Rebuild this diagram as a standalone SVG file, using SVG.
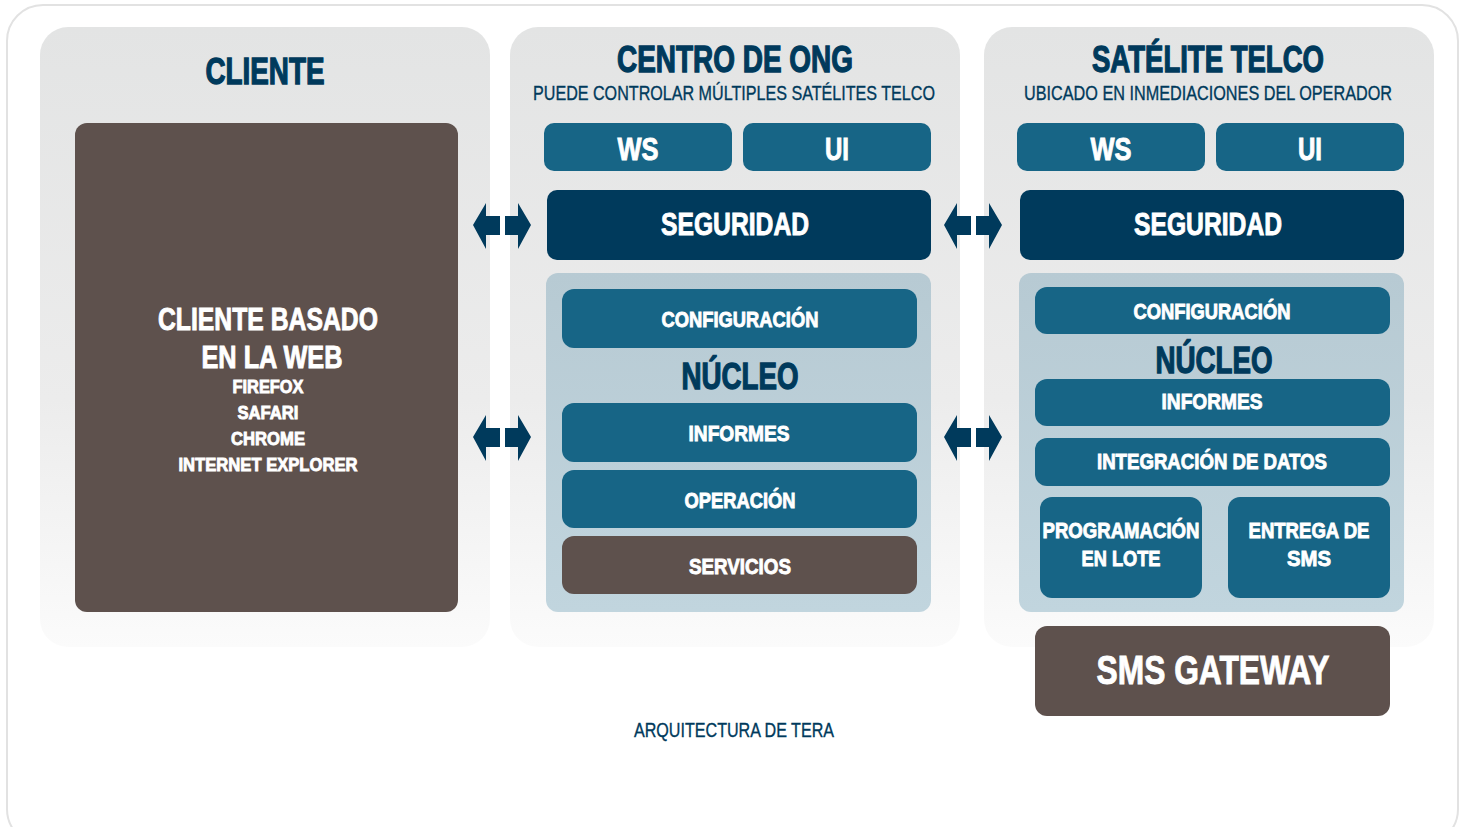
<svg xmlns="http://www.w3.org/2000/svg" width="1466" height="827" viewBox="0 0 1466 827">
<defs>
<linearGradient id="panelG" x1="0" y1="0" x2="0" y2="1">
<stop offset="0" stop-color="#e3e4e4"/>
<stop offset="0.6" stop-color="#ececec"/>
<stop offset="1" stop-color="#fbfbfb"/>
</linearGradient>
<linearGradient id="coreG" x1="0" y1="0" x2="0" y2="1">
<stop offset="0" stop-color="#b7cad3"/>
<stop offset="1" stop-color="#c1d5de"/>
</linearGradient>
<path id="arr" d="M0,0 L13,-22 L13,-9 L27,-9 L27,10 L13,10 L13,24 Z M58,0 L45,-22 L45,-9 L32,-9 L32,10 L45,10 L45,24 Z"/>
</defs>
<style>
text{font-family:"Liberation Sans",Arial,sans-serif;font-weight:bold;text-anchor:middle}
.title{fill:#003a5c;stroke:#003a5c;stroke-width:1.3px;font-size:37px}
.sub{fill:#003a5c;stroke:#003a5c;stroke-width:0.35px;font-size:21px;font-weight:normal}
.w{fill:#ffffff;stroke:#ffffff;stroke-width:0.9px}
.navy{fill:#003a5c}
.teal{fill:#176586}
.brown{fill:#5e514d}
.panel{fill:url(#panelG)}
.core{fill:url(#coreG)}
</style>
<rect x="7" y="5" width="1451" height="840" rx="36" fill="#ffffff" stroke="#e2e2e2" stroke-width="2"/>

<g id="cliente">
<rect class="panel" x="40" y="27" width="450" height="620" rx="28"/>
<text class="title" x="265" y="84" textLength="119" lengthAdjust="spacingAndGlyphs">CLIENTE</text>
<rect class="brown" x="75" y="123" width="383" height="489" rx="12"/>
<text class="w" x="268" y="330" font-size="31" textLength="220" lengthAdjust="spacingAndGlyphs">CLIENTE BASADO</text>
<text class="w" x="272" y="368" font-size="31" textLength="141" lengthAdjust="spacingAndGlyphs">EN LA WEB</text>
<text class="w" x="268" y="393" font-size="19" textLength="71" lengthAdjust="spacingAndGlyphs">FIREFOX</text>
<text class="w" x="268" y="419" font-size="19" textLength="61" lengthAdjust="spacingAndGlyphs">SAFARI</text>
<text class="w" x="268" y="445" font-size="19" textLength="74" lengthAdjust="spacingAndGlyphs">CHROME</text>
<text class="w" x="268" y="471" font-size="19" textLength="179" lengthAdjust="spacingAndGlyphs">INTERNET EXPLORER</text>
</g>

<g id="centro">
<rect class="panel" x="510" y="27" width="450" height="620" rx="28"/>
<text class="title" x="735" y="72" textLength="236" lengthAdjust="spacingAndGlyphs">CENTRO DE ONG</text>
<text class="sub" x="734" y="100" textLength="402" lengthAdjust="spacingAndGlyphs">PUEDE CONTROLAR MÚLTIPLES SATÉLITES TELCO</text>
<rect class="teal" x="544" y="123" width="188" height="48" rx="10"/>
<text class="w" x="638" y="160" font-size="31" textLength="41" lengthAdjust="spacingAndGlyphs">WS</text>
<rect class="teal" x="743" y="123" width="188" height="48" rx="10"/>
<text class="w" x="837" y="160" font-size="31" textLength="24" lengthAdjust="spacingAndGlyphs">UI</text>
<rect class="navy" x="547" y="190" width="384" height="70" rx="10"/>
<text class="w" x="735" y="235" font-size="31" textLength="148" lengthAdjust="spacingAndGlyphs">SEGURIDAD</text>
<rect class="core" x="546" y="273" width="385" height="339" rx="12"/>
<rect class="teal" x="562" y="289" width="355" height="59" rx="12"/>
<text class="w" x="740" y="327" font-size="22" textLength="157" lengthAdjust="spacingAndGlyphs">CONFIGURACIÓN</text>
<text class="title" x="740" y="389" font-size="36" textLength="117" lengthAdjust="spacingAndGlyphs">NÚCLEO</text>
<rect class="teal" x="562" y="403" width="355" height="59" rx="12"/>
<text class="w" x="739" y="441" font-size="22" textLength="101" lengthAdjust="spacingAndGlyphs">INFORMES</text>
<rect class="teal" x="562" y="470" width="355" height="58" rx="12"/>
<text class="w" x="740" y="508" font-size="22" textLength="111" lengthAdjust="spacingAndGlyphs">OPERACIÓN</text>
<rect class="brown" x="562" y="536" width="355" height="58" rx="12"/>
<text class="w" x="740" y="574" font-size="22" textLength="102" lengthAdjust="spacingAndGlyphs">SERVICIOS</text>
</g>

<g id="satelite">
<rect class="panel" x="984" y="27" width="450" height="620" rx="28"/>
<text class="title" x="1208" y="72" textLength="232" lengthAdjust="spacingAndGlyphs">SATÉLITE TELCO</text>
<text class="sub" x="1208" y="100" textLength="368" lengthAdjust="spacingAndGlyphs">UBICADO EN INMEDIACIONES DEL OPERADOR</text>
<rect class="teal" x="1017" y="123" width="188" height="48" rx="10"/>
<text class="w" x="1111" y="160" font-size="31" textLength="41" lengthAdjust="spacingAndGlyphs">WS</text>
<rect class="teal" x="1216" y="123" width="188" height="48" rx="10"/>
<text class="w" x="1310" y="160" font-size="31" textLength="24" lengthAdjust="spacingAndGlyphs">UI</text>
<rect class="navy" x="1020" y="190" width="384" height="70" rx="10"/>
<text class="w" x="1208" y="235" font-size="31" textLength="148" lengthAdjust="spacingAndGlyphs">SEGURIDAD</text>
<rect class="core" x="1019" y="273" width="385" height="339" rx="12"/>
<rect class="teal" x="1035" y="287" width="355" height="47" rx="12"/>
<text class="w" x="1212" y="319" font-size="22" textLength="157" lengthAdjust="spacingAndGlyphs">CONFIGURACIÓN</text>
<text class="title" x="1214" y="373" font-size="36" textLength="117" lengthAdjust="spacingAndGlyphs">NÚCLEO</text>
<rect class="teal" x="1035" y="379" width="355" height="47" rx="12"/>
<text class="w" x="1212" y="409" font-size="22" textLength="101" lengthAdjust="spacingAndGlyphs">INFORMES</text>
<rect class="teal" x="1035" y="438" width="355" height="48" rx="12"/>
<text class="w" x="1212" y="469" font-size="22" textLength="230" lengthAdjust="spacingAndGlyphs">INTEGRACIÓN DE DATOS</text>
<rect class="teal" x="1040" y="497" width="162" height="101" rx="12"/>
<text class="w" x="1121" y="538" font-size="22" textLength="157" lengthAdjust="spacingAndGlyphs">PROGRAMACIÓN</text>
<text class="w" x="1121" y="566" font-size="22" textLength="79" lengthAdjust="spacingAndGlyphs">EN LOTE</text>
<rect class="teal" x="1228" y="497" width="162" height="101" rx="12"/>
<text class="w" x="1309" y="538" font-size="22" textLength="121" lengthAdjust="spacingAndGlyphs">ENTREGA DE</text>
<text class="w" x="1309" y="566" font-size="22" textLength="44" lengthAdjust="spacingAndGlyphs">SMS</text>
</g>

<g id="gateway">
<rect class="brown" x="1035" y="626" width="355" height="90" rx="12"/>
<text class="w" x="1213" y="684" font-size="40" textLength="233" lengthAdjust="spacingAndGlyphs">SMS GATEWAY</text>
</g>

<g id="connectors" class="navy">
<use href="#arr" x="473" y="225"/>
<use href="#arr" x="473" y="437"/>
<use href="#arr" x="944" y="225"/>
<use href="#arr" x="944" y="437"/>
</g>

<text class="sub" x="734" y="737" font-size="20" textLength="200" lengthAdjust="spacingAndGlyphs">ARQUITECTURA DE TERA</text>
</svg>
